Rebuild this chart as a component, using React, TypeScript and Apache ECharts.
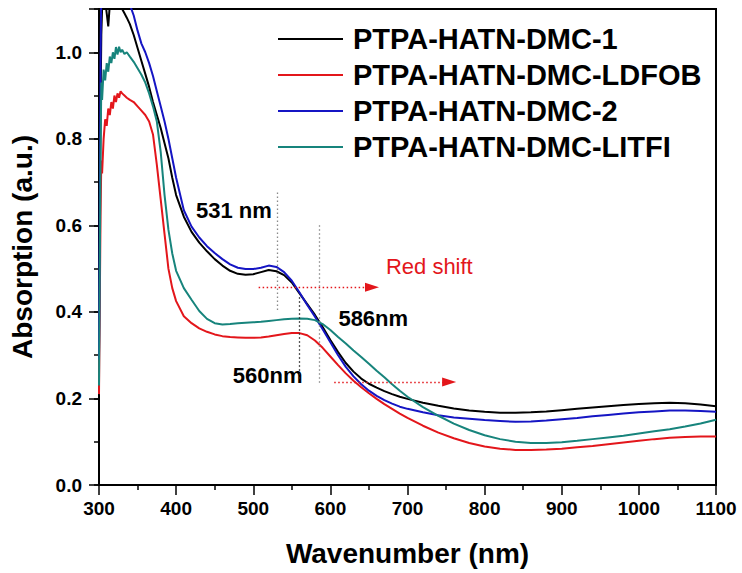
import React, { useEffect, useRef } from "react";
import * as echarts from "echarts";

// Wavelength grid (nm) shared by all spectra
const wavelengths = [
  300, 301, 302, 303, 304,
  306, 308, 310, 312, 314, 316, 318, 320, 322, 324, 326, 328, 330,
  333, 336, 340,
  345, 350, 355, 360, 365, 370, 375, 380, 385, 390, 395, 400,
  410, 420, 430, 440, 450, 460, 470, 480, 490, 500, 510, 520, 530, 540, 550, 560, 570, 580, 590,
  600, 610, 620, 630, 640, 650, 660, 670, 680, 690, 700,
  720, 740, 760, 780, 800, 820, 840, 860, 880, 900, 920, 940, 960, 980, 1000, 1020, 1040, 1060, 1080, 1100,
];

const seriesNames = [
  "PTPA-HATN-DMC-1",
  "PTPA-HATN-DMC-LDFOB",
  "PTPA-HATN-DMC-2",
  "PTPA-HATN-DMC-LITFI",
];

const dmc1 = [
  0.30, 0.58, 0.88, 1.04, 1.10,
  1.13, 1.12, 1.09, 1.06, 1.11, 1.13, 1.14, 1.13, 1.14, 1.12, 1.12, 1.11, 1.10,
  1.09, 1.08, 1.065,
  1.04, 1.01, 0.98, 0.95, 0.92, 0.885, 0.855, 0.825, 0.79, 0.755, 0.71, 0.67,
  0.62, 0.585, 0.56, 0.54, 0.522, 0.507, 0.495, 0.488, 0.486, 0.487, 0.492, 0.497, 0.494, 0.485, 0.468, 0.443, 0.418, 0.393, 0.365,
  0.335, 0.307, 0.282, 0.262, 0.246, 0.234, 0.225, 0.217, 0.21, 0.204, 0.199,
  0.19, 0.183, 0.177, 0.172, 0.169, 0.167, 0.167, 0.168, 0.17, 0.173, 0.176, 0.179, 0.182, 0.185, 0.187, 0.189, 0.19, 0.189, 0.186, 0.182,
];

const ldfob = [
  0.21, 0.42, 0.62, 0.75, 0.72,
  0.80, 0.845, 0.83, 0.87, 0.855, 0.885, 0.87, 0.9, 0.885, 0.905, 0.895, 0.91, 0.905,
  0.9, 0.895, 0.89,
  0.885, 0.875, 0.865, 0.855, 0.84, 0.81, 0.74, 0.66, 0.58, 0.50, 0.455, 0.425,
  0.39, 0.374, 0.362, 0.354, 0.348, 0.344, 0.342, 0.341, 0.34, 0.34, 0.341, 0.343, 0.346, 0.349, 0.351, 0.351, 0.346, 0.334, 0.317,
  0.297, 0.277, 0.258, 0.241, 0.226, 0.212, 0.199, 0.187, 0.176, 0.165, 0.155,
  0.137, 0.121, 0.108, 0.097, 0.089, 0.084, 0.081, 0.081, 0.082, 0.084, 0.087, 0.09, 0.094, 0.098, 0.102, 0.106, 0.109, 0.111, 0.112, 0.112,
];

const dmc2 = [
  0.29, 0.62, 0.98, 1.16, 1.22,
  1.25, 1.26, 1.26, 1.25, 1.25, 1.24, 1.23, 1.22, 1.21, 1.2, 1.19, 1.17, 1.16,
  1.14, 1.12, 1.11,
  1.085, 1.05, 1.02, 1.0, 0.975, 0.945, 0.91, 0.875, 0.84, 0.8, 0.755, 0.71,
  0.635, 0.597, 0.572, 0.552, 0.536, 0.522, 0.51, 0.502, 0.499, 0.499, 0.502, 0.507, 0.504, 0.492, 0.472, 0.445, 0.416, 0.389, 0.36,
  0.33, 0.3, 0.273, 0.251, 0.233, 0.218, 0.206, 0.196, 0.188, 0.181, 0.176,
  0.168, 0.161, 0.156, 0.153, 0.15, 0.148, 0.146, 0.147, 0.149, 0.152, 0.155, 0.159, 0.162, 0.165, 0.168, 0.17, 0.172, 0.172, 0.171, 0.169,
];

const litfi = [
  0.23, 0.5, 0.76, 0.93, 0.89,
  0.96, 0.935, 0.975, 0.955, 0.99, 0.975, 1.0, 0.985, 1.012, 0.995, 1.013, 1.0, 1.006,
  0.996, 1.0, 0.99,
  0.978, 0.963, 0.948, 0.93, 0.905, 0.875, 0.84, 0.77, 0.67, 0.59, 0.535, 0.495,
  0.455, 0.428, 0.402, 0.384, 0.374, 0.371, 0.372, 0.374, 0.375, 0.376, 0.377, 0.379, 0.381, 0.383, 0.384, 0.385, 0.384, 0.381, 0.372,
  0.358, 0.342, 0.327, 0.311, 0.296, 0.28, 0.264, 0.249, 0.233, 0.218, 0.204,
  0.18, 0.16, 0.142, 0.127, 0.115, 0.106, 0.1, 0.097, 0.097, 0.099, 0.102, 0.106, 0.11, 0.114, 0.119, 0.124, 0.129, 0.135, 0.142, 0.151,
];

const seriesValues = [dmc1, ldfob, dmc2, litfi];
const seriesColors = ["#000000", "#e3161b", "#1515c4", "#17847c"];

// Axis ticks
const xTicks = { min: 300, max: 1100, step: 100 };
const yMajorTicks = [0, 0.2, 0.4, 0.6, 0.8, 1.0];
const yRange = { min: 0, max: 1.1 };

// Peak annotations (nm) and the red-shift arrows
const peak531 = 531;
const peak560 = 560;
const peak586 = 586;

const FONT = '"Liberation Sans", Arial, Helvetica, sans-serif';

export default function App() {
  const ref = useRef<HTMLDivElement>(null);

  useEffect(() => {
    if (!ref.current) return;
    const chart = echarts.init(ref.current, undefined, { renderer: "svg" });

    const dotted = (color: string) => ({
      color,
      width: 1.3,
      type: [1.5, 2.5] as number[],
    });

    const markLines = [
      [
        { coord: [peak531, 0.676], symbol: "none", lineStyle: dotted("#8a8a8a") },
        { coord: [peak531, 0.404], symbol: "none" },
      ],
      [
        { coord: [peak560, 0.434], symbol: "none", lineStyle: dotted("#222222") },
        { coord: [peak560, 0.242], symbol: "none" },
      ],
      [
        { coord: [peak586, 0.6], symbol: "none", lineStyle: dotted("#8a8a8a") },
        { coord: [peak586, 0.231], symbol: "none" },
      ],
      [
        { coord: [507, 0.457], symbol: "none", lineStyle: dotted("#e3161b") },
        { coord: [654, 0.457], symbol: "triangle", symbolSize: [9, 14] },
      ],
      [
        { coord: [605, 0.238], symbol: "none", lineStyle: dotted("#e3161b") },
        { coord: [754, 0.238], symbol: "triangle", symbolSize: [9, 14] },
      ],
    ];

    const series: any[] = seriesNames.map((name, i) => ({
      name,
      type: "line",
      data: wavelengths.map((w, k) => [w, seriesValues[i][k]]),
      showSymbol: false,
      symbol: "none",
      clip: true,
      lineStyle: { color: seriesColors[i], width: 2 },
      itemStyle: { color: seriesColors[i] },
      emphasis: { disabled: true },
      z: 3,
    }));

    series.push({
      name: "annotations",
      type: "line",
      data: [],
      silent: true,
      markLine: {
        silent: true,
        animation: false,
        label: { show: false },
        emphasis: { disabled: true },
        itemStyle: { color: "#e3161b" },
        data: markLines,
      },
      z: 2,
    });

    const tickStyle = { color: "#000", width: 1.5 };
    const isMajorY = (v: number) => yMajorTicks.some((t) => Math.abs(t - v) < 1e-6);

    const option: any = {
      animation: false,
      backgroundColor: "#ffffff",
      grid: {
        left: 97,
        right: 26,
        top: 9,
        bottom: 88,
        show: true,
        borderColor: "#000",
        borderWidth: 2,
        backgroundColor: "transparent",
      },
      legend: {
        orient: "vertical",
        left: 278,
        top: 24,
        padding: 0,
        icon: "rect",
        itemWidth: 65,
        itemHeight: 2,
        itemGap: 6,
        selectedMode: false,
        data: seriesNames,
        textStyle: {
          fontFamily: FONT,
          fontWeight: "bold",
          fontSize: 29,
          lineHeight: 30,
          color: "#000",
          padding: [0, 0, 0, 5],
        },
      },
      xAxis: {
        type: "value",
        min: xTicks.min,
        max: xTicks.max,
        interval: xTicks.step,
        name: "Wavenumber (nm)",
        nameLocation: "middle",
        nameGap: 54,
        nameTextStyle: { fontFamily: FONT, fontWeight: "bold", fontSize: 28, color: "#000" },
        axisLine: { show: true, onZero: false, lineStyle: { color: "#000", width: 2 } },
        axisTick: { show: true, length: 10, lineStyle: tickStyle },
        minorTick: { show: true, splitNumber: 2, length: 5, lineStyle: tickStyle },
        splitLine: { show: false },
        minorSplitLine: { show: false },
        axisLabel: {
          margin: 14,
          fontFamily: FONT,
          fontWeight: "bold",
          fontSize: 19,
          color: "#000",
          formatter: (v: number) => String(v),
        },
      },
      yAxis: [
        {
          type: "value",
          min: yRange.min,
          max: yRange.max,
          interval: 0.2,
          name: "Absorption (a.u.)",
          nameLocation: "middle",
          nameRotate: 90,
          nameGap: 63,
          nameTextStyle: { fontFamily: FONT, fontWeight: "bold", fontSize: 28, color: "#000" },
          axisLine: { show: true, onZero: false, lineStyle: { color: "#000", width: 2 } },
          axisTick: { show: true, length: 10, lineStyle: tickStyle },
          splitLine: { show: false },
          axisLabel: {
            show: true,
            margin: 17,
            fontFamily: FONT,
            fontWeight: "bold",
            fontSize: 19,
            color: "#000",
            formatter: (v: number) => (isMajorY(v) ? v.toFixed(1) : ""),
          },
        },
        {
          // minor ticks every 0.1
          type: "value",
          min: yRange.min,
          max: yRange.max,
          interval: 0.1,
          position: "left",
          axisLine: { show: false },
          axisTick: { show: true, length: 5, lineStyle: tickStyle },
          axisLabel: { show: false },
          splitLine: { show: false },
        },
      ],
      series,
    };

    chart.setOption(option);

    // text annotations placed through the grid's coordinate system
    const px = (x: number, y: number) => chart.convertToPixel({ gridIndex: 0 }, [x, y]) as number[];
    const p531 = px(474.8, 0.634);
    const p560 = px(518.6, 0.252);
    const p586 = px(655.6, 0.385);
    const pShift = px(672, 0.505);
    const boldText = (p: number[], text: string) => ({
      type: "text",
      x: p[0],
      y: p[1],
      silent: true,
      style: {
        text,
        fill: "#000",
        font: `bold 22px ${FONT}`,
        align: "center",
        verticalAlign: "middle",
      },
    });
    chart.setOption({
      graphic: [
        boldText(p531, "531 nm"),
        boldText(p560, "560nm"),
        boldText(p586, "586nm"),
        {
          type: "text",
          x: pShift[0],
          y: pShift[1],
          silent: true,
          style: {
            text: "Red shift",
            fill: "#e3161b",
            font: `22px ${FONT}`,
            align: "left",
            verticalAlign: "middle",
          },
        },
      ],
    });

    return () => chart.dispose();
  }, []);

  return (
    <div
      ref={ref}
      style={{ position: "fixed", left: 0, top: 0, width: 742, height: 573, background: "#fff" }}
    />
  );
}
